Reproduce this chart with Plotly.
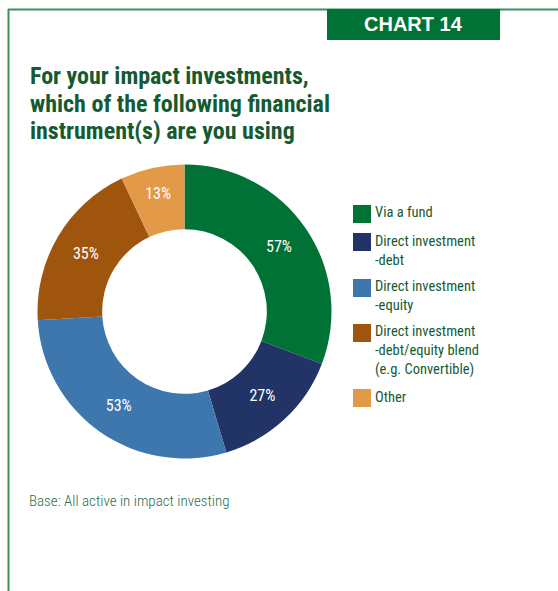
import plotly.graph_objects as go

# Share of active impact investors using each instrument (multiple answers allowed)
categories = [
    "Via a fund",
    "Direct investment<br>-debt",
    "Direct investment<br>-equity",
    "Direct investment<br>-debt/equity blend<br>(e.g. Convertible)",
    "Other",
]
values = [57, 27, 53, 35, 13]
colors = ["#007236", "#223366", "#3d77ae", "#a0550f", "#e39a48"]
value_labels = [f"{v}%" for v in values]

title_lines = [
    "For your impact investments,",
    "which of the following financial",
    "instrument(s) are you using",
]
chart_tag = "CHART 14"
base_note = "Base: All active in impact investing"

W, H = 558, 591
COND = "Roboto Condensed, Liberation Sans, sans-serif"
TEXT_GREEN = "#155a30"
FRAME_GREEN = "#3a8f5c"


def px(x):
    return x / W


def py(y):
    return 1 - y / H


# donut geometry in pixels
cx, cy, r = 184.5, 311.5, 147

fig = go.Figure(
    go.Pie(
        labels=categories,
        values=values,
        text=value_labels,
        textinfo="text",
        textposition="inside",
        insidetextorientation="horizontal",
        insidetextfont=dict(family=COND, size=16, color="white"),
        marker=dict(colors=colors, line=dict(width=0)),
        hole=0.56,
        sort=False,
        direction="clockwise",
        rotation=0,
        showlegend=False,
        hoverinfo="label+text",
        domain=dict(x=[px(cx - r), px(cx + r)], y=[py(cy + r), py(cy - r)]),
    )
)

shapes = [
    # frame: top and left rules
    dict(type="line", xref="paper", yref="paper", x0=px(8), x1=px(558), y0=py(9.5), y1=py(9.5),
         line=dict(color=FRAME_GREEN, width=2)),
    dict(type="line", xref="paper", yref="paper", x0=px(8.5), x1=px(8.5), y0=py(9), y1=py(591),
         line=dict(color=FRAME_GREEN, width=2)),
    # chart tag box
    dict(type="rect", xref="paper", yref="paper", x0=px(327), x1=px(500), y0=py(40), y1=py(9),
         fillcolor="#007236", line=dict(width=0)),
]

annotations = [
    dict(text=f"<b>{chart_tag}</b>", x=px(413.5), y=py(24.5), xref="paper", yref="paper",
         xanchor="center", yanchor="middle", showarrow=False,
         font=dict(family="Liberation Sans, Arial, sans-serif", size=20, color="white")),
]

title_y = [76, 103.5, 131]
for line, yy in zip(title_lines, title_y):
    annotations.append(dict(text=f"<b>{line}</b>", x=px(28), y=py(yy), xref="paper", yref="paper",
                            xanchor="left", yanchor="middle", align="left", showarrow=False,
                            font=dict(family=COND, size=24, color=TEXT_GREEN)))

# legend built from the same categories and colours
legend_tops = [205, 233, 279, 324, 389]
for cat, col, top in zip(categories, colors, legend_tops):
    shapes.append(dict(type="rect", xref="paper", yref="paper", x0=px(353), x1=px(371),
                       y0=py(top + 18), y1=py(top), fillcolor=col, line=dict(width=0)))
    annotations.append(dict(text=cat, x=px(373), y=py(top - 2.5), xref="paper", yref="paper",
                            xanchor="left", yanchor="top", align="left", showarrow=False,
                            font=dict(family=COND, size=14.5, color=TEXT_GREEN)))

annotations.append(dict(text=base_note, x=px(27), y=py(500.5), xref="paper", yref="paper",
                        xanchor="left", yanchor="middle", align="left", showarrow=False,
                        font=dict(family=COND, size=15, weight=300, color="#2d6d47")))

fig.update_layout(
    width=W, height=H,
    margin=dict(l=0, r=0, t=0, b=0),
    paper_bgcolor="white", plot_bgcolor="white",
    shapes=shapes, annotations=annotations,
)

fig.write_html("out.html")
